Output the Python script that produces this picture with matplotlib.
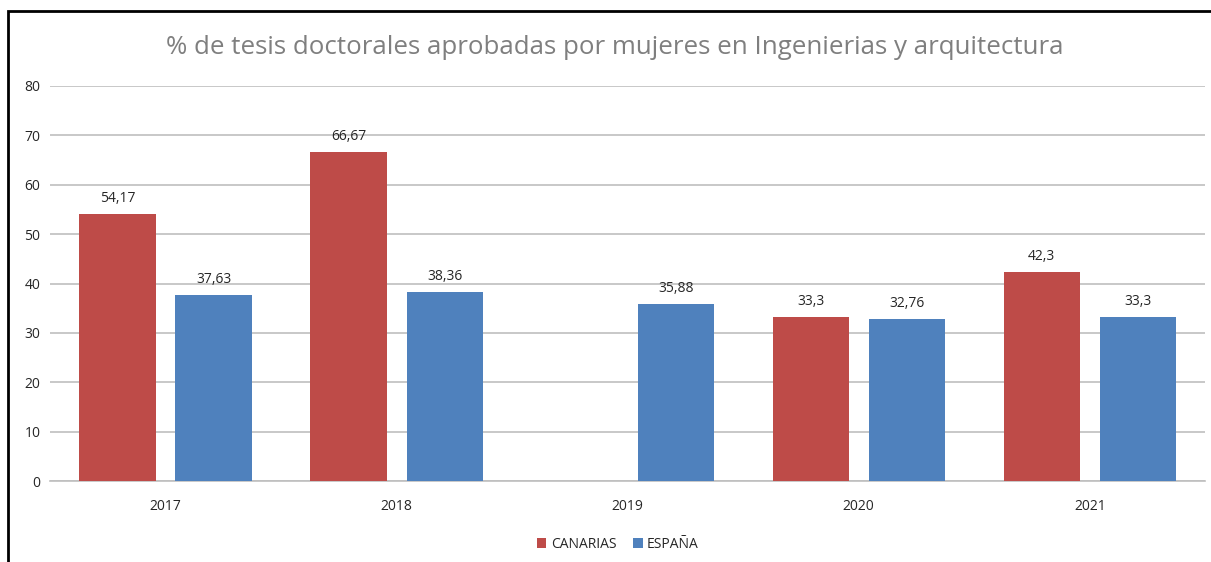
import numpy as np
import matplotlib.pyplot as plt
from matplotlib.patches import Rectangle

years = ['2017', '2018', '2019', '2020', '2021']
canarias = [54.17, 66.67, np.nan, 33.3, 42.3]
espana = [37.63, 38.36, 35.88, 32.76, 33.3]
canarias_labels = ['54,17', '66,67', '', '33,3', '42,3']
espana_labels = ['37,63', '38,36', '35,88', '32,76', '33,3']

RED = '#BE4B48'
BLUE = '#4F81BD'
FONT = ['Open Sans', 'DejaVu Sans']

fig = plt.figure(figsize=(12.11, 5.62), dpi=100)
ax = fig.add_axes([0.0413, 0.144, 0.954, 0.703])

x = np.arange(len(years))
w = 0.33
off = 0.208
ax.bar(x - off, canarias, w, color=RED, label='CANARIAS', zorder=3)
ax.bar(x + off, espana, w, color=BLUE, label='ESPAÑA', zorder=3)

for i in range(len(years)):
    if not np.isnan(canarias[i]):
        ax.text(x[i] - off, canarias[i] + 1.6, canarias_labels[i], ha='center', va='bottom',
                fontsize=10, color='#262626', family=FONT)
    ax.text(x[i] + off, espana[i] + 1.6, espana_labels[i], ha='center', va='bottom',
            fontsize=10, color='#262626', family=FONT)

ax.set_xlim(-0.5, 4.5)
ax.set_ylim(0, 80)
ax.set_yticks(range(0, 81, 10))
ax.set_xticks(x)
ax.set_xticklabels(years)
ax.grid(axis='y', color='#BFBFBF', linewidth=1.2, zorder=0)
for s in ['top', 'right', 'left']:
    ax.spines[s].set_visible(False)
ax.spines['bottom'].set_color('#BFBFBF')
ax.spines['bottom'].set_linewidth(1.2)
ax.tick_params(axis='both', length=0, labelsize=10, labelcolor='#262626')
ax.tick_params(axis='y', pad=7)
ax.tick_params(axis='x', pad=13)
for lbl in ax.get_xticklabels() + ax.get_yticklabels():
    lbl.set_family(FONT)

fig.text(0.508, 0.915, '% de tesis doctorales aprobadas por mujeres en Ingenierias y arquitectura',
         ha='center', va='center', fontsize=18.6, color='#7F7F7F', family=FONT)

leg = fig.legend(loc='center', bbox_to_anchor=(0.51, 0.032), ncol=2, frameon=False,
                 handlelength=0.7, handleheight=0.7, handletextpad=0.3, columnspacing=1.2,
                 prop={'family': FONT, 'size': 10})
for t in leg.get_texts():
    t.set_color('#262626')

# border of the pasted chart
fig.patches.append(Rectangle((0.0066, -0.05), 1.1, 1.03, transform=fig.transFigure,
                             fill=False, edgecolor='black', linewidth=2, zorder=10))

fig.savefig('out.png', dpi=100)
